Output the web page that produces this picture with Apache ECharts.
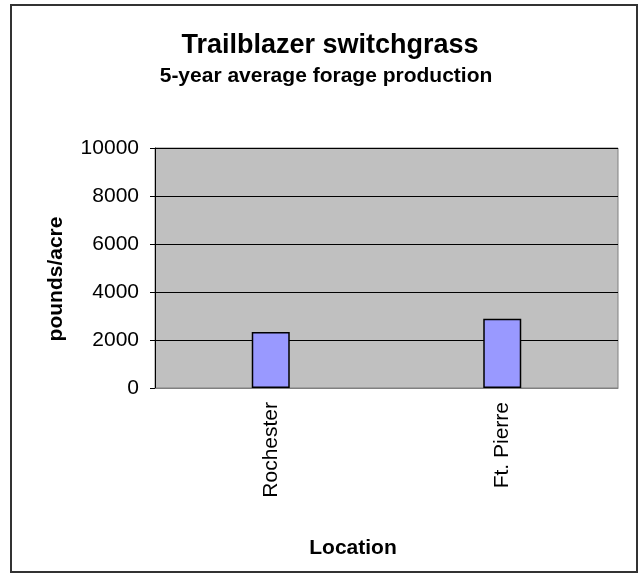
<!DOCTYPE html>
<html>
<head>
<meta charset="utf-8">
<script src="https://cdn.jsdelivr.net/npm/echarts@6/dist/echarts.min.js"></script>
<style>
  html, body { margin: 0; padding: 0; background: #fff; }
  #chart { width: 643px; height: 574px; }
</style>
</head>
<body>
<div id="chart"></div>
<script>
var categories = ["Rochester", "Ft. Pierre"];
var forage = [2330, 2890];
var yTicks = { min: 0, max: 10000, interval: 2000 };

var chart = echarts.init(document.getElementById("chart"));
var font = "Liberation Sans, Arial, sans-serif";

var option = {
  backgroundColor: "#ffffff",
  animation: false,
  title: [
    {
      text: "Trailblazer switchgrass",
      left: 325, top: 27, textAlign: "center",
      textStyle: { fontFamily: font, fontSize: 27, fontWeight: "bold", color: "#000" }
    },
    {
      text: "5-year average forage production",
      left: 321, top: 61, textAlign: "center",
      textStyle: { fontFamily: font, fontSize: 21, fontWeight: "bold", color: "#000" }
    },
    {
      text: "Location",
      left: 348, top: 533, textAlign: "center",
      textStyle: { fontFamily: font, fontSize: 21, fontWeight: "bold", color: "#000" }
    }
  ],
  grid: {
    left: 155, right: 25, top: 148, bottom: 186,
    show: true,
    backgroundColor: "#C0C0C0",
    borderColor: "#808080",
    borderWidth: 1
  },
  xAxis: {
    type: "category",
    data: categories,
    axisLine: { lineStyle: { color: "#808080", width: 1 } },
    axisTick: { show: false },
    axisLabel: {
      rotate: 90, margin: 14,
      fontFamily: font, fontSize: 21, color: "#000"
    }
  },
  yAxis: {
    type: "value",
    min: yTicks.min, max: yTicks.max, interval: yTicks.interval,
    axisLine: { show: true, lineStyle: { color: "#000", width: 1 } },
    axisTick: { show: true, inside: false, length: 5, lineStyle: { color: "#000" } },
    axisLabel: {
      margin: 16, fontFamily: font, fontSize: 21, color: "#000",
      formatter: function (v) { return String(v); }
    },
    splitLine: { show: true, lineStyle: { color: "#000", width: 1 } }
  },
  graphic: [
    {
      type: "rect",
      shape: { x: 11, y: 5, width: 626, height: 567 },
      style: { fill: "none", stroke: "#333", lineWidth: 2 },
      silent: true
    },
    {
      type: "text",
      x: 56, y: 279, rotation: Math.PI / 2,
      style: {
        text: "pounds/acre",
        fontFamily: font, fontSize: 21, fontWeight: "bold", fill: "#000",
        align: "center", verticalAlign: "middle"
      }
    }
  ],
  series: [
    {
      type: "bar",
      data: forage,
      barWidth: 38,
      itemStyle: { color: "#9999FF", borderColor: "#000", borderWidth: 1.5 }
    }
  ]
};

chart.setOption(option);
</script>
</body>
</html>
